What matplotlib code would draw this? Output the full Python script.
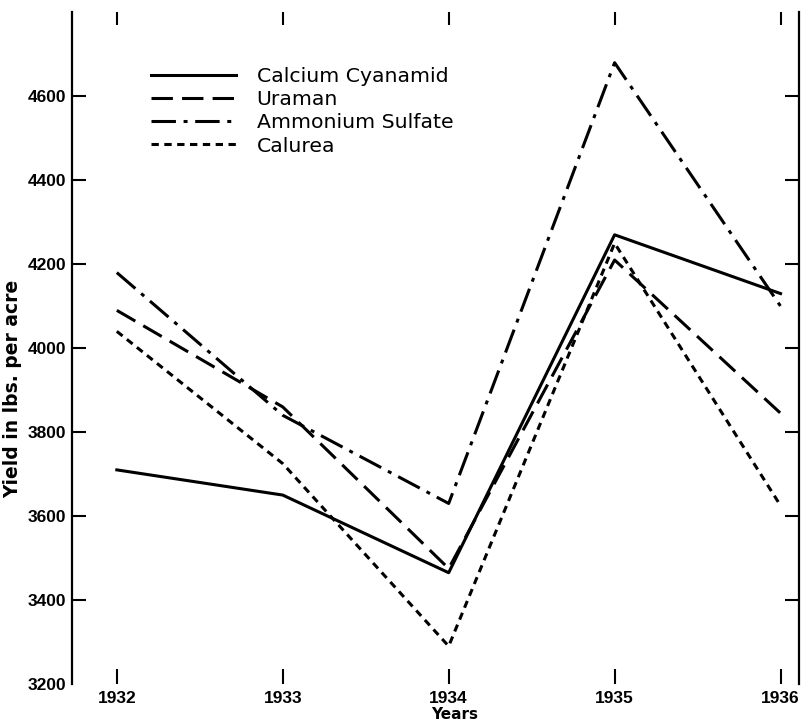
import matplotlib
matplotlib.use('Agg')
import matplotlib.pyplot as plt

# yields in lbs. per acre
years = [1932, 1933, 1934, 1935, 1936]
calcium_cyanamid = [3710, 3650, 3465, 4270, 4130]
uraman = [4090, 3860, 3475, 4210, 3845]
ammonium_sulfate = [4180, 3840, 3630, 4680, 4100]
calurea = [4040, 3725, 3290, 4250, 3625]

y_ticks = [3200, 3400, 3600, 3800, 4000, 4200, 4400, 4600]

plt.rcParams['font.family'] = ['Liberation Sans', 'DejaVu Sans']

fig = plt.figure(figsize=(8.02, 7.25), dpi=100)
ax = fig.add_axes([0.0898, 0.0566, 0.9062, 0.9264])

ax.plot(years, calcium_cyanamid, color='black', lw=2.2, linestyle='-',
        label='Calcium Cyanamid')
ax.plot(years, uraman, color='black', lw=2.2, linestyle=(0, (7, 3)),
        label='Uraman')
ax.plot(years, ammonium_sulfate, color='black', lw=2.2,
        linestyle=(0, (8, 2.5, 1.3, 2.5)), label='Ammonium Sulfate')
ax.plot(years, calurea, color='black', lw=2.2, linestyle=(0, (2.4, 1.8)),
        label='Calurea')

ax.set_xlim(1931.73, 1936.11)
ax.set_ylim(3200, 4800)

# frame: only left/right spines, ticks pointing inward
ax.spines['top'].set_visible(False)
ax.spines['bottom'].set_visible(False)
ax.spines['left'].set_linewidth(1.6)
ax.spines['right'].set_linewidth(1.6)

ax.set_xticks(years)
ax.set_xticklabels([str(y) for y in years], fontsize=12.5, fontweight='bold')
ax.set_yticks(y_ticks)
ax.set_yticklabels([str(v) for v in y_ticks], fontsize=12.5, fontweight='bold')

ax.tick_params(axis='x', which='major', direction='in', length=11, width=1.5,
               bottom=True, top=False, pad=5)
ax.tick_params(axis='y', which='major', direction='in', length=10, width=1.5,
               left=True, right=True, labelright=False, pad=4)
# short marks along the top edge
for t in ax.xaxis.get_major_ticks():
    t.tick2line.set_visible(True)
    t.tick2line.set_markersize(9)
# hide the 3200 tick mark itself, keep its label
ax.yaxis.get_major_ticks()[0].tick1line.set_visible(False)
ax.yaxis.get_major_ticks()[0].tick2line.set_visible(False)

ax.set_xlabel('Years', fontsize=11, fontweight='bold', family='DejaVu Sans')
ax.xaxis.set_label_coords(0.526, -0.034)
ax.set_ylabel('Yield in lbs. per acre', fontsize=13.5, fontweight='bold',
              family='DejaVu Sans')
ax.yaxis.set_label_coords(-0.068, 0.44)

leg = ax.legend(loc='upper left', bbox_to_anchor=(0.108, 0.919), frameon=False,
                handlelength=4.2, handletextpad=1.0, labelspacing=0.21,
                borderpad=0, borderaxespad=0,
                prop={'family': 'DejaVu Sans', 'size': 14.7})

fig.savefig('out.png', dpi=100)
